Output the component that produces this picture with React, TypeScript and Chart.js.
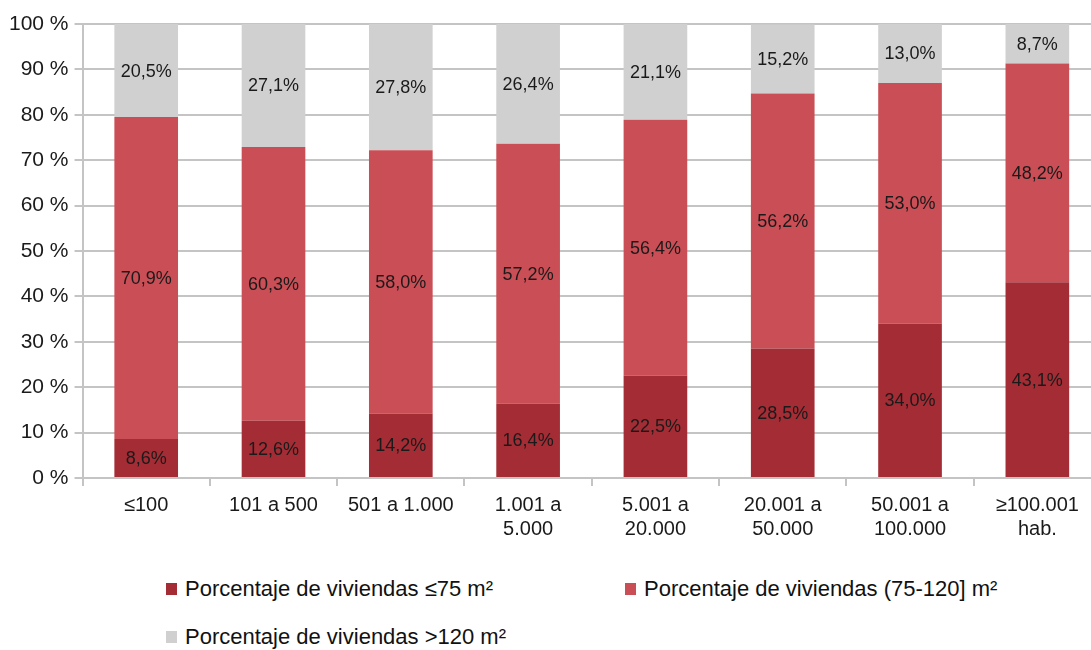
import React, { useEffect, useRef } from "react";
import { Chart, registerables } from "chart.js";

Chart.register(...registerables);

const categories: (string | string[])[] = [
  "≤100",
  "101 a 500",
  "501 a 1.000",
  ["1.001 a", "5.000"],
  ["5.001 a", "20.000"],
  ["20.001 a", "50.000"],
  ["50.001 a", "100.000"],
  ["≥100.001", "hab."],
];
const small = [8.6, 12.6, 14.2, 16.4, 22.5, 28.5, 34.0, 43.1];
const medium = [70.9, 60.3, 58.0, 57.2, 56.4, 56.2, 53.0, 48.2];
const large = [20.5, 27.1, 27.8, 26.4, 21.1, 15.2, 13.0, 8.7];
const seriesNames = [
  "Porcentaje de viviendas ≤75 m²",
  "Porcentaje de viviendas (75-120] m²",
  "Porcentaje de viviendas >120 m²",
];
const colors = ["#a42c34", "#ca4e55", "#d0d0d0"];

const FONT = "'Liberation Sans', Arial, sans-serif";

const labelPlugin = {
  id: "segLabels",
  afterDatasetsDraw(chart: any) {
    const ctx = chart.ctx;
    ctx.save();
    ctx.font = `18px ${FONT}`;
    ctx.fillStyle = "#1a1a1a";
    ctx.textAlign = "center";
    ctx.textBaseline = "middle";
    chart.data.datasets.forEach((ds: any, di: number) => {
      const meta = chart.getDatasetMeta(di);
      meta.data.forEach((bar: any, i: number) => {
        const v = ds.data[i] as number;
        const yc = (bar.y + bar.base) / 2;
        ctx.fillText(v.toFixed(1).replace(".", ",") + "%", bar.x, yc + 1);
      });
    });
    ctx.restore();
  },
};

export default function App() {
  const ref = useRef<HTMLCanvasElement | null>(null);
  useEffect(() => {
    document.body.style.margin = "0";
    const chart = new Chart(ref.current!, {
      type: "bar",
      data: {
        labels: categories,
        datasets: [small, medium, large].map((d, i) => ({
          label: seriesNames[i],
          data: d,
          backgroundColor: colors[i],
          borderWidth: 0,
          barPercentage: 0.5,
          categoryPercentage: 1,
        })),
      },
      options: {
        animation: false,
        responsive: false,
        maintainAspectRatio: false,
        layout: { padding: { top: 24, bottom: 6, left: 3, right: 0 } },
        plugins: { legend: { display: false }, tooltip: { enabled: false } },
        scales: {
          x: {
            stacked: true,
            offset: true,
            grid: {
              offset: true,
              drawOnChartArea: false,
              drawTicks: true,
              tickLength: 8,
              color: "#c4c4c4",
              lineWidth: 2,
            },
            border: { color: "#c4c4c4", width: 2 },
            ticks: {
              font: { family: FONT, size: 20, lineHeight: 1.2 },
              color: "#1a1a1a",
              padding: 7,
              maxRotation: 0,
              autoSkip: false,
            },
          },
          y: {
            stacked: true,
            min: 0,
            max: 100,
            grid: {
              color: "#c4c4c4",
              lineWidth: 2,
              tickLength: 8,
            },
            border: { color: "#c4c4c4", width: 2 },
            ticks: {
              stepSize: 10,
              font: { family: FONT, size: 21 },
              color: "#1a1a1a",
              padding: 6,
              callback: (v: any) => `${v} %`,
            },
          },
        },
      },
      plugins: [labelPlugin],
    });
    return () => chart.destroy();
  }, []);

  const legendItem = (i: number, left: number, top: number) => (
    <div
      key={i}
      style={{
        position: "absolute",
        left,
        top,
        display: "flex",
        alignItems: "center",
        font: `22px ${FONT}`,
        lineHeight: "26px",
        color: "#111",
        whiteSpace: "nowrap",
      }}
    >
      <span
        style={{
          display: "inline-block",
          width: 11,
          height: 12,
          background: colors[i],
          marginRight: 8,
        }}
      />
      {seriesNames[i]}
    </div>
  );

  return (
    <div
      style={{
        position: "relative",
        width: 1091,
        height: 650,
        overflow: "hidden",
        background: "#fff",
      }}
    >
      <canvas
        ref={ref}
        width={1101}
        height={554}
        style={{ position: "absolute", left: 0, top: 0 }}
      />
      {legendItem(0, 166, 576)}
      {legendItem(1, 625, 576)}
      {legendItem(2, 166, 624)}
    </div>
  );
}
